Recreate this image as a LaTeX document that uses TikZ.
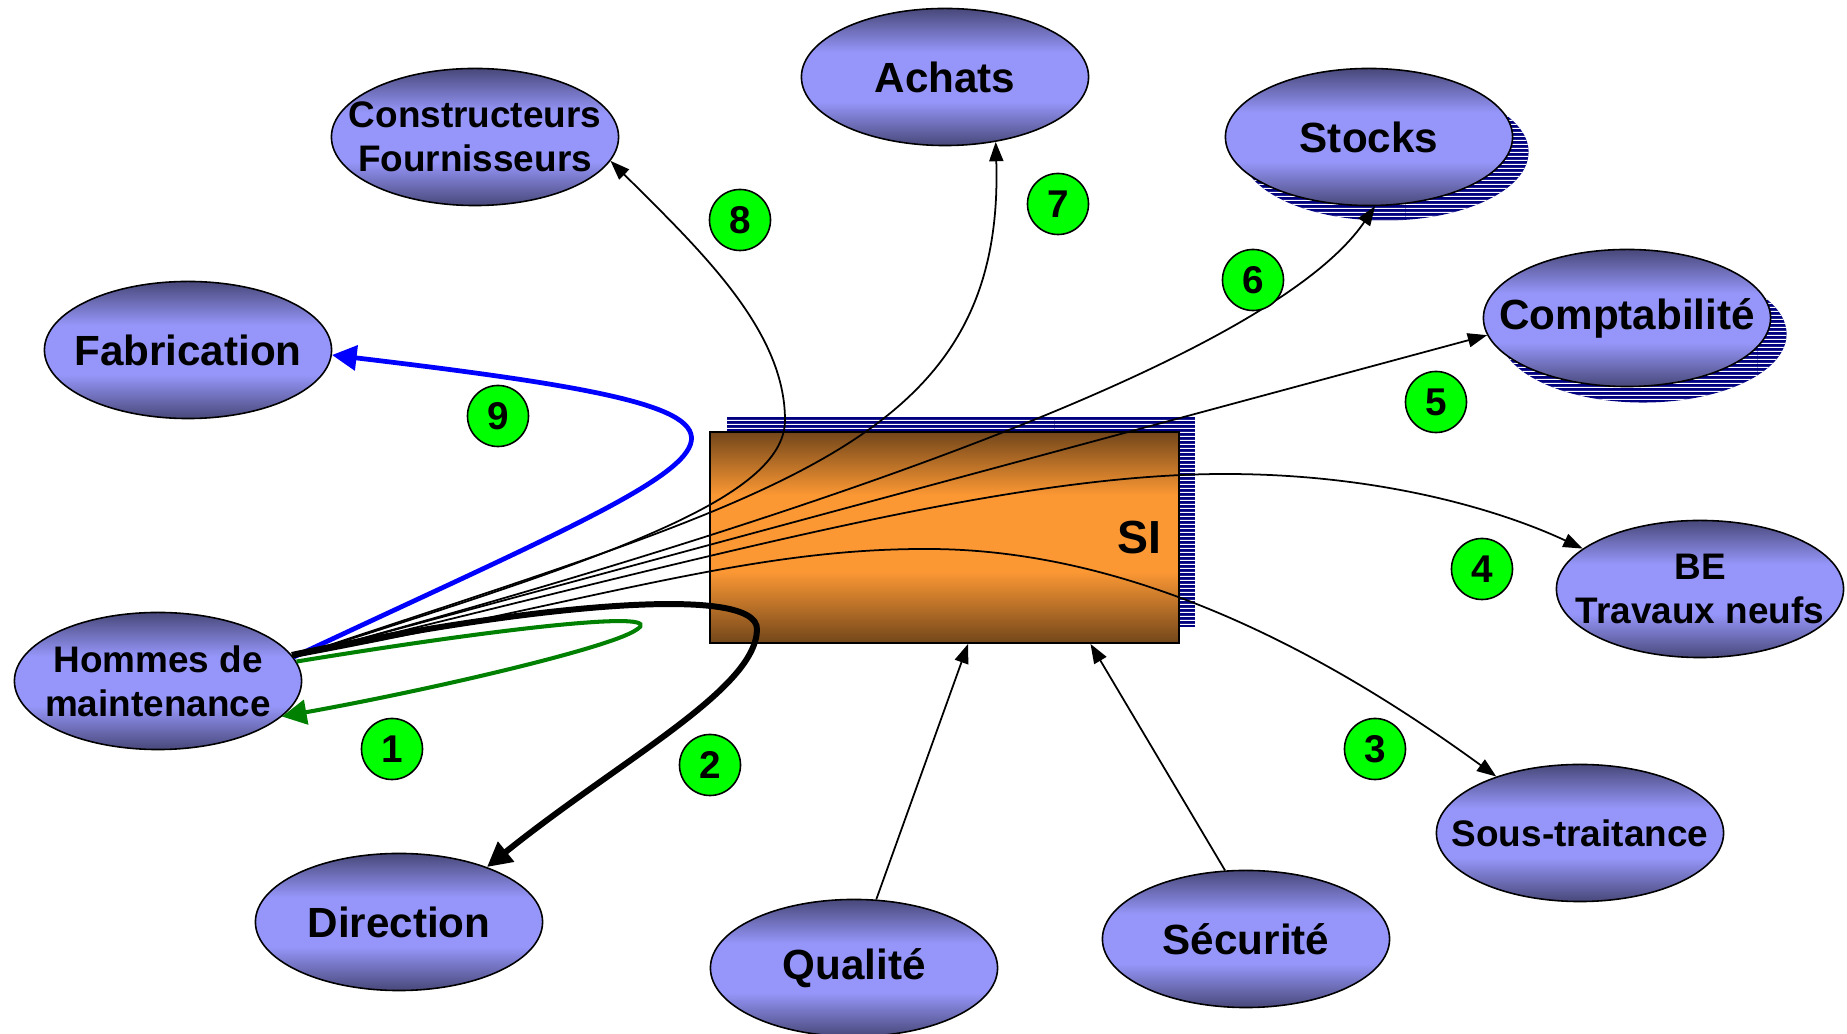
\documentclass[tikz,border=0pt]{standalone}
\usepackage{fontspec}
\setmainfont{Liberation Sans}
\usepackage{tikz}
\usetikzlibrary{shapes.geometric, arrows.meta, patterns, calc, positioning}
\definecolor{ellsombre}{RGB}{72,72,122}
\definecolor{ellclair}{RGB}{150,150,250}
\definecolor{sisombre}{RGB}{114,70,26}
\definecolor{siclair}{RGB}{252,152,52}
\definecolor{marine}{RGB}{0,0,128}
\definecolor{vertpastille}{RGB}{0,255,0}
\definecolor{vertfleche}{RGB}{0,128,0}
\pgfdeclareverticalshading{degradeell}{100bp}{color(0bp)=(ellsombre); color(25bp)=(ellsombre); color(41bp)=(ellclair); color(59bp)=(ellclair); color(75bp)=(ellsombre); color(100bp)=(ellsombre)}
\pgfdeclareverticalshading{degradesi}{100bp}{color(0bp)=(sisombre); color(25bp)=(sisombre); color(42bp)=(siclair); color(60bp)=(siclair); color(75bp)=(sisombre); color(100bp)=(sisombre)}
\pgfdeclarepatternformonly{lignesserrees}{\pgfpointorigin}{\pgfqpoint{100pt}{1pt}}{\pgfqpoint{100pt}{1pt}}{%
  \pgfsetlinewidth{0.3pt}\pgfpathmoveto{\pgfqpoint{0pt}{0.5pt}}\pgfpathlineto{\pgfqpoint{100pt}{0.5pt}}\pgfusepath{stroke}}

\begin{document}
\begin{tikzpicture}[x=0.01cm, y=-0.01cm]
\useasboundingbox (0,0) rectangle (1847,1034);
\tikzstyle{service}=[ellipse, draw=black, line width=0.45pt, minimum width=2.87cm, minimum height=1.37cm, inner xsep=-0.35cm, inner ysep=-0.1cm, shade, shading=degradeell, align=center, font=\bfseries\fontsize{12}{14}\selectfont]
\tikzstyle{petit}=[font=\bfseries\fontsize{10.5}{12.5}\selectfont]
\tikzstyle{ombre}=[ellipse, minimum width=2.87cm, minimum height=1.37cm, inner sep=0pt, fill=marine, postaction={pattern=lignesserrees, pattern color=white}]
\tikzstyle{pastille}=[circle, draw=black, line width=0.45pt, fill=vertpastille, minimum size=0.61cm, inner sep=0pt, font=\bfseries\fontsize{11}{13}\selectfont]
\tikzstyle{fleche}=[line width=0.5pt, -{Triangle[length=5.5pt, width=4pt]}]
\tikzstyle{grosse}=[-{Triangle[length=7pt, width=7pt]}]
%% ombres hachurees
\node (osto) at (1385,152) [ombre] {};
\node (ocpt) at (1643,334) [ombre] {};
\path [fill=marine, postaction={pattern=lignesserrees, pattern color=white}] (727,417) rectangle (1195,627);
%% SI
\node (si) at (944.5,537.5) [rectangle, draw=black, line width=0.5pt, minimum width=4.69cm, minimum height=2.11cm, shade, shading=degradesi, text width=4.33cm, inner xsep=0.18cm, align=right, font=\bfseries\fontsize{13.2}{15}\selectfont] {SI};
%% services
\node (ach) at (945,77) [service] {Achats};
\node (con) at (475,137) [service, petit] {Constructeurs\\Fournisseurs};
\node (sto) at (1369,137) [service] {Stocks};
\node (cpt) at (1627,318) [service] {Comptabilité};
\node (fab) at (188,350) [service] {Fabrication};
\node (be) at (1700,589) [service, petit] {BE\\Travaux neufs};
\node (hom) at (158,681) [service, petit] {Hommes de\\maintenance};
\node (sst) at (1580,833) [service, petit] {Sous-traitance};
\node (dir) at (399,922) [service] {Direction};
\node (qua) at (854,968) [service] {Qualité};
\node (sec) at (1246,939) [service] {Sécurité};

\coordinate (siq) at ($(si.south west)!0.55!(si.south east)$);
\coordinate (sis) at ($(si.south west)!0.81!(si.south east)$);

%% fleches
\draw [grosse, blue, line width=1.35pt] (hom.10) .. controls (760,438) and (861,418) .. (fab.-2);
\draw [grosse, vertfleche, line width=1.15pt] (hom.8) .. controls (520,625) and (670,610) .. (636,630) .. controls (610,648) and (430,690) .. (hom.-16);
\draw [grosse, line width=1.7pt] (hom.11) .. controls (500,610) and (760,580) .. (757,630) .. controls (755,690) and (620,760) .. (dir.32);
\draw [fleche] (hom.10) .. controls (600,600) and (750,548) .. (930,549) .. controls (1150,550) and (1350,670) .. (sst.146);
\draw [fleche] (hom.10) .. controls (700,560) and (1000,474) .. (1225,474) .. controls (1380,474) and (1500,510) .. (be.161);
\draw [fleche] (hom.10) -- (cpt.187);
\draw [fleche] (hom.10) .. controls (800,520) and (1270,360) .. (sto.-85);
\draw [fleche] (hom.10) .. controls (776,495) and (1005,446) .. (ach.-52);
\draw [fleche] (hom.10) .. controls (600,560) and (785,500) .. (785,420) .. controls (785,330) and (700,250) .. (con.-10);
\draw [fleche] (qua.72) -- (siq);
\draw [fleche] (sec.107) -- (sis);

%% pastilles
\node (p1) at (392,749) [pastille] {1};
\node (p2) at (710,765) [pastille] {2};
\node (p3) at (1375,749) [pastille] {3};
\node (p4) at (1482,569) [pastille] {4};
\node (p5) at (1436,402) [pastille] {5};
\node (p6) at (1253,280) [pastille] {6};
\node (p7) at (1058,204) [pastille] {7};
\node (p8) at (740,220) [pastille] {8};
\node (p9) at (498,416) [pastille] {9};
\end{tikzpicture}
\end{document}
